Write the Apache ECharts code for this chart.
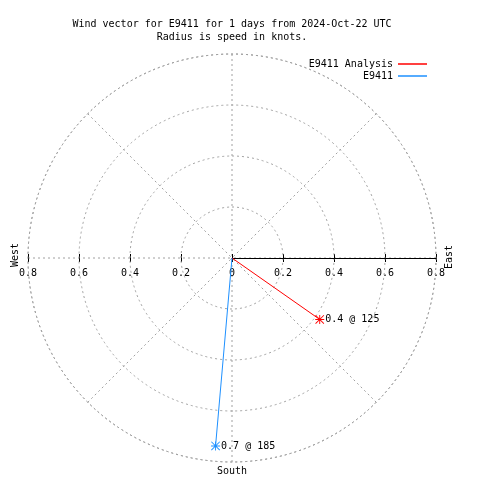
<!DOCTYPE html>
<html>
<head>
<meta charset="utf-8">
<script src="https://cdn.jsdelivr.net/npm/echarts@6/dist/echarts.min.js"></script>
<style>html,body{margin:0;padding:0;background:#fff}#c{width:480px;height:480px}</style>
</head>
<body>
<div id="c"></div>
<script>
// ---- data ----
var seriesNames = ['E9411 Analysis', 'E9411'];
var speeds = [0.42, 0.74];        // knots
var directions = [125, 185];      // degrees (compass)
var seriesColors = ['#ff0000', '#1e90ff'];
var radiusTicks = [0, 0.2, 0.4, 0.6, 0.8];
var titleLines = ['Wind vector for E9411 for 1 days from 2024-Oct-22 UTC', 'Radius is speed in knots.'];
var compassLabels = ['East', 'South', 'West'];

var FONT = 'DejaVu Sans Mono';
var CX = 232, CY = 258, R = 204;
var star = 'path://M4.5,0 L5.5,0 L5.5,10 L4.5,10 Z M0,4.5 L10,4.5 L10,5.5 L0,5.5 Z M0.7,0 L10,9.3 L9.3,10 L0,0.7 Z M9.3,0 L10,0.7 L0.7,10 L0,9.3 Z';

var chart = echarts.init(document.getElementById('c'));
var series = seriesNames.map(function (n, i) {
  return {
    type: 'line', name: n, coordinateSystem: 'polar', polarIndex: 1,
    color: seriesColors[i],
    lineStyle: { color: seriesColors[i], width: 1 },
    itemStyle: { color: seriesColors[i] },
    symbol: star, symbolSize: 9, showSymbol: true,
    z: 5,
    data: [
      { value: [0, directions[i]], symbol: 'none', label: { show: false } },
      { value: [speeds[i], directions[i]] }
    ],
    label: {
      show: true, position: 'right', distance: 1,
      fontFamily: FONT, fontSize: 10, color: '#000',
      formatter: function (p) { return speeds[i].toFixed(1) + ' @ ' + directions[i]; }
    },
    animation: false
  };
});

var grayDash = { color: '#a0a0a0', type: [2, 3], width: 1 };
var rmax = radiusTicks[radiusTicks.length - 1];
var rint = radiusTicks[1] - radiusTicks[0];

chart.setOption({
  animation: false,
  title: {
    text: titleLines.join('\n'),
    left: CX - 5, top: 13, textAlign: 'center',
    textStyle: { fontFamily: FONT, fontSize: 10, fontWeight: 'normal', color: '#000', lineHeight: 13 }
  },
  legend: {
    data: seriesNames, orient: 'vertical', right: 48, top: 53,
    align: 'right', icon: 'rect', itemWidth: 29, itemHeight: 1.5, itemGap: 0,
    textStyle: { fontFamily: FONT, fontSize: 10, color: '#000', lineHeight: 12 }
  },
  polar: [
    { center: [CX, CY], radius: R },
    { center: [CX, CY], radius: R }
  ],
  angleAxis: [
    { polarIndex: 0, type: 'value', min: 0, max: 360, interval: 45, startAngle: 0, clockwise: false,
      axisLine: { show: true, lineStyle: grayDash }, axisTick: { show: false }, axisLabel: { show: false },
      splitLine: { show: true, lineStyle: grayDash } },
    { polarIndex: 1, type: 'value', min: 0, max: 360, startAngle: 90, clockwise: true, show: false }
  ],
  radiusAxis: [
    { polarIndex: 0, type: 'value', min: 0, max: rmax, interval: rint,
      axisLine: { show: true, lineStyle: { color: '#000', width: 1 } }, axisTick: { show: false },
      axisLabel: { show: false }, splitLine: { show: true, lineStyle: grayDash }, z: 3 },
    { polarIndex: 1, type: 'value', min: 0, max: rmax, show: false }
  ],
  grid: { left: CX - R, width: 2 * R, top: CY - R, height: R },
  xAxis: [
    { type: 'value', min: -rmax, max: rmax, interval: rint, position: 'bottom',
      axisLine: { show: false }, splitLine: { show: false },
      axisTick: { show: true, length: 4, inside: false, lineStyle: { color: '#000' } },
      axisLabel: { show: true, margin: 10, fontFamily: FONT, fontSize: 10, color: '#000',
        formatter: function (v) { return String(parseFloat(Math.abs(v).toFixed(1))); } } },
    { type: 'value', min: -rmax, max: rmax, interval: rint, position: 'bottom',
      axisLine: { show: false }, splitLine: { show: false },
      axisTick: { show: true, length: 4, inside: true, lineStyle: { color: '#000' } },
      axisLabel: { show: false } }
  ],
  yAxis: { type: 'value', min: 0, max: 1, show: false },
  graphic: [
    { type: 'text', x: 449.5, y: 257, rotation: Math.PI / 2,
      style: { text: compassLabels[0], fontFamily: FONT, fontSize: 10, fill: '#000', align: 'center', verticalAlign: 'middle' } },
    { type: 'text', x: 232, y: 471,
      style: { text: compassLabels[1], fontFamily: FONT, fontSize: 10, fill: '#000', align: 'center', verticalAlign: 'middle' } },
    { type: 'text', x: 15, y: 255, rotation: Math.PI / 2,
      style: { text: compassLabels[2], fontFamily: FONT, fontSize: 10, fill: '#000', align: 'center', verticalAlign: 'middle' } }
  ],
  series: series
});
</script>
</body>
</html>
